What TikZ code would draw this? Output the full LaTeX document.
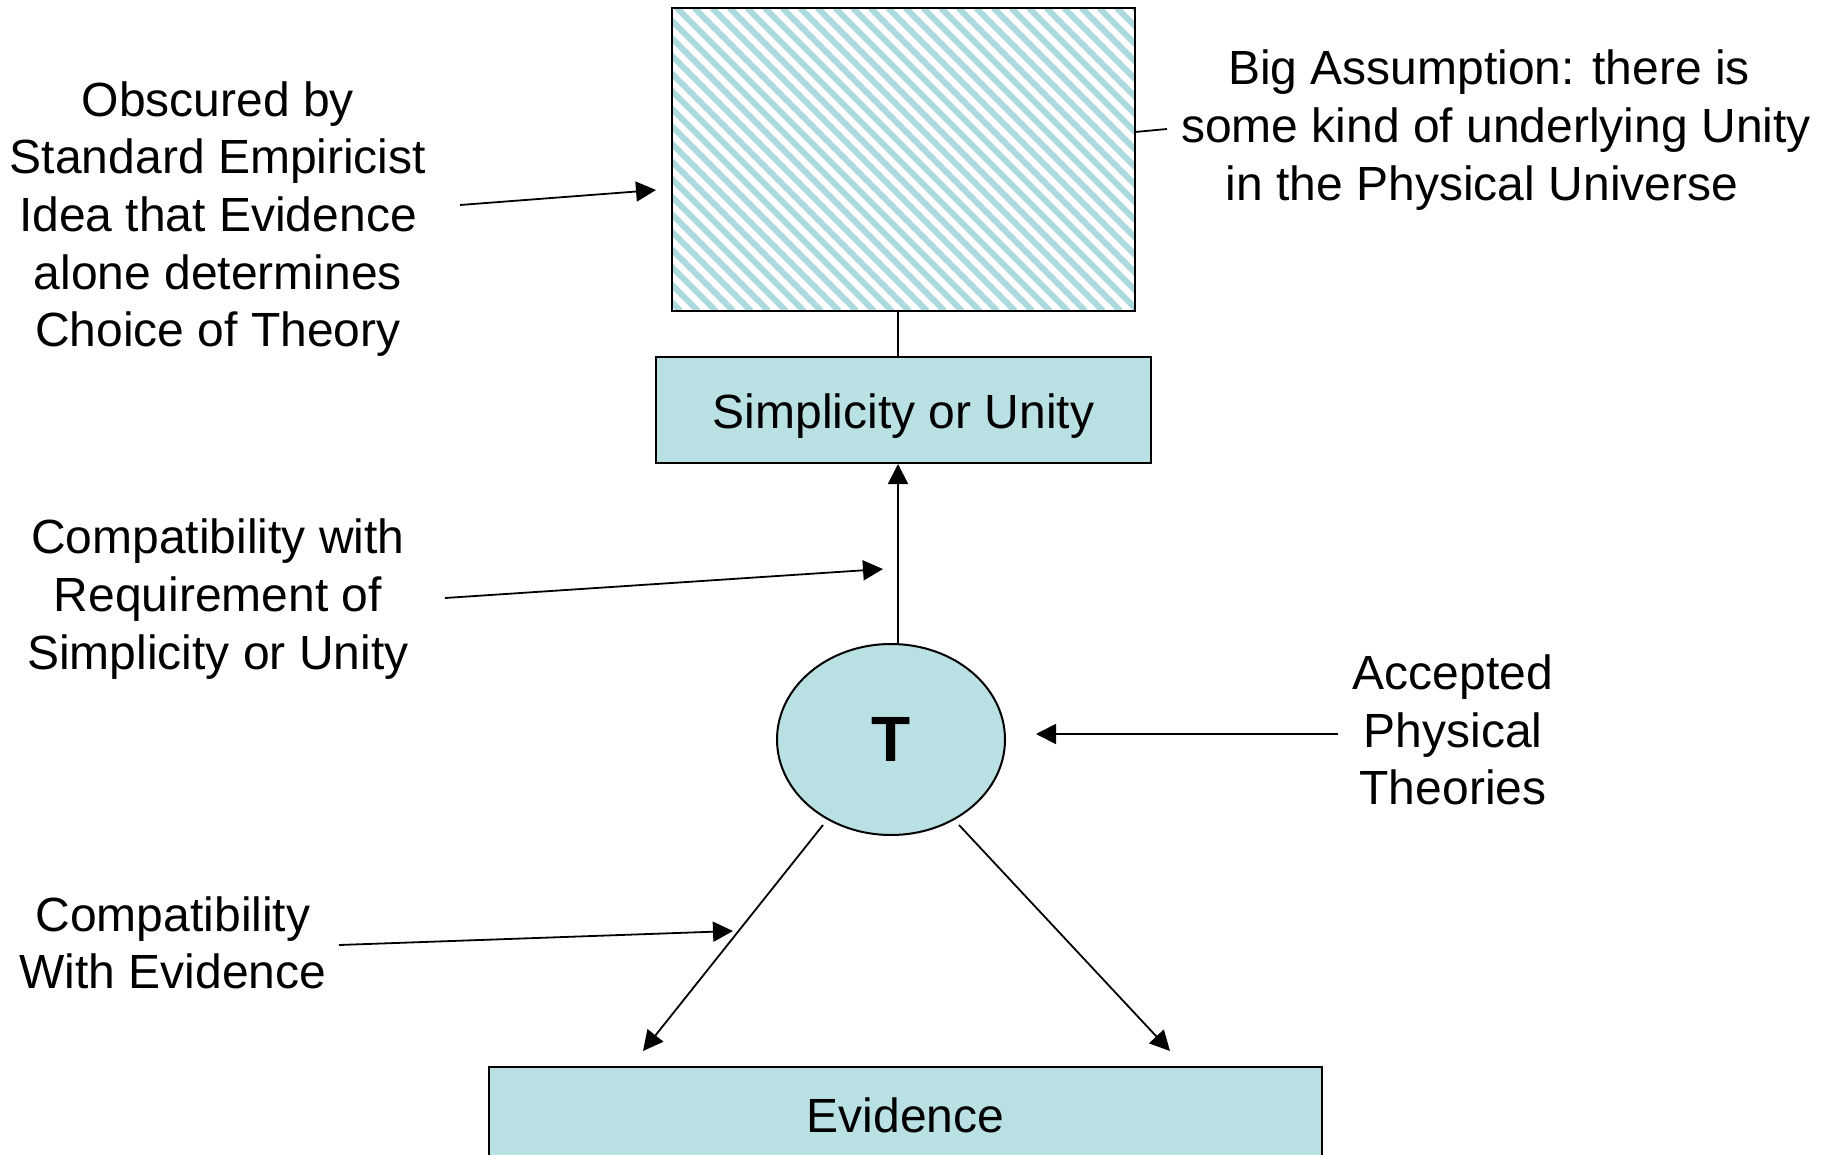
\documentclass[tikz,border=0pt]{standalone}
\usepackage{fontspec}
\setmainfont{Liberation Sans}
\usetikzlibrary{arrows.meta,shapes.geometric}
\definecolor{tealfill}{RGB}{185,224,227}
\definecolor{stripecol}{RGB}{172,218,222}
\begin{document}
\begin{tikzpicture}[x=1pt,y=-1pt,
  lbl/.style={align=center,font=\fontsize{48}{57.6}\selectfont,inner sep=0pt},
  box/.style={draw=black,line width=2pt,fill=tealfill,font=\fontsize{48}{57.6}\selectfont,inner sep=0pt},
  arr/.style={line width=1.8pt,-{Triangle[length=20pt,width=20pt]}},
  conn/.style={line width=1.8pt}]
\useasboundingbox (0,0) rectangle (1827,1155);
\fill[white] (0,0) rectangle (1827,1155);
% hatched box
\begin{scope}
\clip (672,8) rectangle (1135,311);
\foreach \i in {0,...,46} \draw[stripecol, line width=6pt] ({360+\i*17.6},8) -- ({663+\i*17.6},311);
\end{scope}
\node[draw,line width=2pt,minimum width=463pt,minimum height=303pt,inner sep=0pt] (hatch) at (903.5,159.5) {};
% main nodes
\node[box,minimum width=495pt,minimum height=106pt,text height=41pt,text depth=4pt] (simp) at (903.5,410) {Simplicity or Unity};
\node[box,ellipse,minimum width=228pt,minimum height=191pt] (T) at (891,739.5) {\fontsize{64}{64}\selectfont\bfseries T};
\node[box,minimum width=833pt,minimum height=96pt] (evid) at (905.5,1115) {Evidence};
% labels
\node[lbl] (obs) at (218,219) {Obscured by\\Standard Empiricist\\Idea that Evidence\\alone determines\\Choice of Theory};
\node[lbl] (creq) at (218,599) {Compatibility with\\Requirement of\hspace*{20pt}\\Simplicity or Unity};
\node[lbl] (cev) at (173,943) {Compatibility\\With Evidence};
\node[lbl] (acc) at (1453,730) {Accepted\\Physical\\Theories};
\node[lbl] (big) at (1489,130) {Big Assumption: there is\\\hspace*{14pt}some kind of underlying Unity\\in the Physical Universe\hspace*{14pt}};
% connector coordinates
\coordinate (tu) at (898,643);
\coordinate (bA) at (1135,132);
\coordinate (bB) at (1167,129);
\coordinate (o1) at (460,205);
\coordinate (o2) at (656,190);
\coordinate (r1) at (445,598);
\coordinate (r2) at (883,569);
\coordinate (e1) at (339,945);
\coordinate (e2) at (733,931);
\coordinate (p1) at (1338,734);
\coordinate (p2) at (1036,734);
\coordinate (dl1) at (823,825);
\coordinate (dl2) at (643,1051);
\coordinate (dr1) at (959,825);
\coordinate (dr2) at (1170,1051);
% connectors
\draw[conn] (hatch.south -| tu) -- (simp.north -| tu);
\draw[conn] (bA) -- (bB);
\draw[arr] (tu) -- (tu |- simp.south);
\draw[arr] (o1) -- (o2);
\draw[arr] (r1) -- (r2);
\draw[arr] (e1) -- (e2);
\draw[arr] (p1) -- (p2);
\draw[arr] (dl1) -- (dl2);
\draw[arr] (dr1) -- (dr2);
\end{tikzpicture}
\end{document}
